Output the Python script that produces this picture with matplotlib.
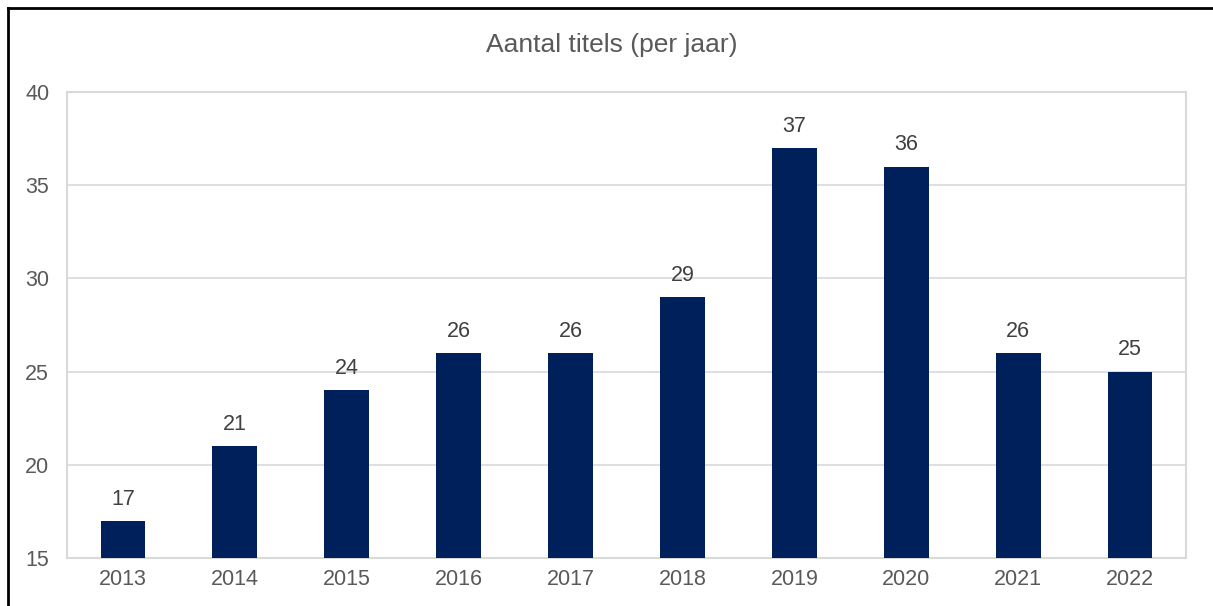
import matplotlib.pyplot as plt
from matplotlib.lines import Line2D

years = ['2013', '2014', '2015', '2016', '2017', '2018', '2019', '2020', '2021', '2022']
titels = [17, 21, 24, 26, 26, 29, 37, 36, 26, 25]

plt.rcParams['font.family'] = ['Liberation Sans', 'DejaVu Sans']

W, H = 1213, 606
fig = plt.figure(figsize=(W / 100, H / 100), dpi=100)
ax = fig.add_axes([67 / W, 1 - 558 / H, (1186 - 67) / W, (558 - 92) / H])

bars = ax.bar(range(len(years)), titels, width=0.4, color='#00205b', zorder=3)
ax.set_ylim(15, 40)
ax.set_xlim(-0.5, len(years) - 0.5)
ax.set_yticks(range(15, 41, 5))
ax.set_xticks(range(len(years)))
ax.set_xticklabels(years)

ax.grid(axis='y', color='#d9d9d9', linewidth=1.2, zorder=0)
for s in ax.spines.values():
    s.set_color('#d9d9d9')
    s.set_linewidth(1.5)
ax.tick_params(length=0, labelsize=15.5, labelcolor='#595959')
ax.tick_params(axis='y', pad=30)
ax.tick_params(axis='x', pad=8)
for lbl in ax.get_yticklabels():
    lbl.set_horizontalalignment('left')

for b, v in zip(bars, titels):
    ax.annotate(str(v), (b.get_x() + b.get_width() / 2, v), xytext=(0, 8),
                textcoords='offset points', ha='center', va='bottom',
                fontsize=15.5, color='#404040')

fig.text(612 / W, 1 - 45 / H, 'Aantal titels (per jaar)', ha='center', va='center',
         fontsize=19, color='#595959')

# outer frame
fig.add_artist(Line2D([8 / W, 8 / W], [0, 1 - 8 / H], color='black', linewidth=2,
                      transform=fig.transFigure))
fig.add_artist(Line2D([8 / W, 1], [1 - 8 / H, 1 - 8 / H], color='black', linewidth=2,
                      transform=fig.transFigure))

fig.savefig('out.png', dpi=100)
